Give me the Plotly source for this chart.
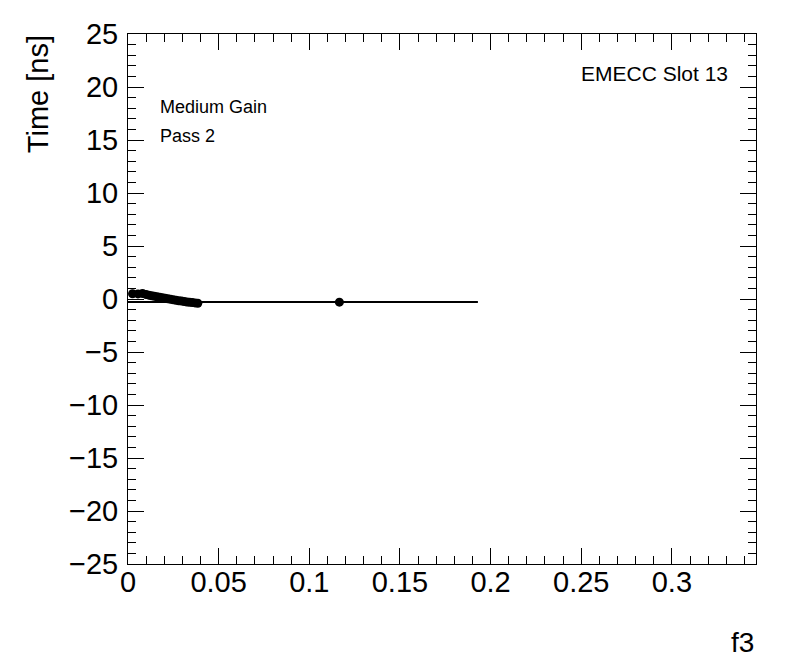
import plotly.graph_objects as go

# Data
f3_values = [0.0025, 0.0055, 0.0080, 0.0100, 0.0115, 0.0130, 0.0145, 0.0160, 0.0175,
             0.0190, 0.0205, 0.0220, 0.0235, 0.0250, 0.0265, 0.0280, 0.0295, 0.0310,
             0.0325, 0.0340, 0.0355, 0.0370, 0.0385, 0.1166]
time_values = [0.50, 0.48, 0.52, 0.42, 0.36, 0.31, 0.26, 0.21, 0.17, 0.12, 0.07, 0.02,
               -0.03, -0.08, -0.12, -0.16, -0.20, -0.24, -0.28, -0.31, -0.34, -0.37, -0.40, -0.30]
fit_x = [0.0, 0.193]
fit_y = [-0.28, -0.28]

FONT = "Liberation Sans, Arial, Helvetica, sans-serif"

fig = go.Figure()
fig.add_trace(go.Scatter(x=fit_x, y=fit_y, mode="lines",
                         line=dict(color="black", width=2), showlegend=False))
fig.add_trace(go.Scatter(x=f3_values, y=time_values, mode="markers",
                         marker=dict(color="black", size=9, symbol="circle"),
                         cliponaxis=False, showlegend=False))

axis_common = dict(showline=True, mirror="allticks", linecolor="black", linewidth=1,
                   ticks="inside", ticklen=16, tickwidth=1, tickcolor="black",
                   showgrid=False, zeroline=False,
                   tickfont=dict(family=FONT, size=29, color="black"))

fig.update_xaxes(range=[0, 0.3464], dtick=0.05, tick0=0,
                 minor=dict(ticks="inside", ticklen=8, dtick=0.01, tickcolor="black", showgrid=False),
                 ticklabelstandoff=-8, **axis_common)
fig.update_yaxes(range=[-25, 25], dtick=5, tick0=0,
                 minor=dict(ticks="inside", ticklen=8, dtick=1, tickcolor="black", showgrid=False),
                 ticklabelstandoff=3, **axis_common)

fig.update_layout(
    width=788, height=664,
    margin=dict(l=120, r=40, t=26, b=108, autoexpand=False),
    plot_bgcolor="white", paper_bgcolor="white",
    font=dict(family=FONT, color="black"),
    annotations=[
        dict(text="f3", xref="paper", yref="paper", x=1.0, y=-0.149, xanchor="right",
             yanchor="middle", showarrow=False, font=dict(size=28, family=FONT)),
        dict(text="Time [ns]", xref="paper", yref="paper", x=-0.143, y=1.002, xanchor="center",
             yanchor="top", textangle=-90, showarrow=False, font=dict(size=29, family=FONT)),
        dict(text="Medium Gain", xref="paper", yref="paper", x=0.048, y=0.862, xanchor="left",
             yanchor="middle", showarrow=False, font=dict(size=18, family=FONT)),
        dict(text="Pass 2", xref="paper", yref="paper", x=0.048, y=0.8075, xanchor="left",
             yanchor="middle", showarrow=False, font=dict(size=18, family=FONT)),
        dict(text="EMECC Slot 13", xref="paper", yref="paper", x=0.9586, y=0.926, xanchor="right",
             yanchor="middle", showarrow=False, font=dict(size=21, family=FONT)),
    ],
)

fig.write_html("out.html")
